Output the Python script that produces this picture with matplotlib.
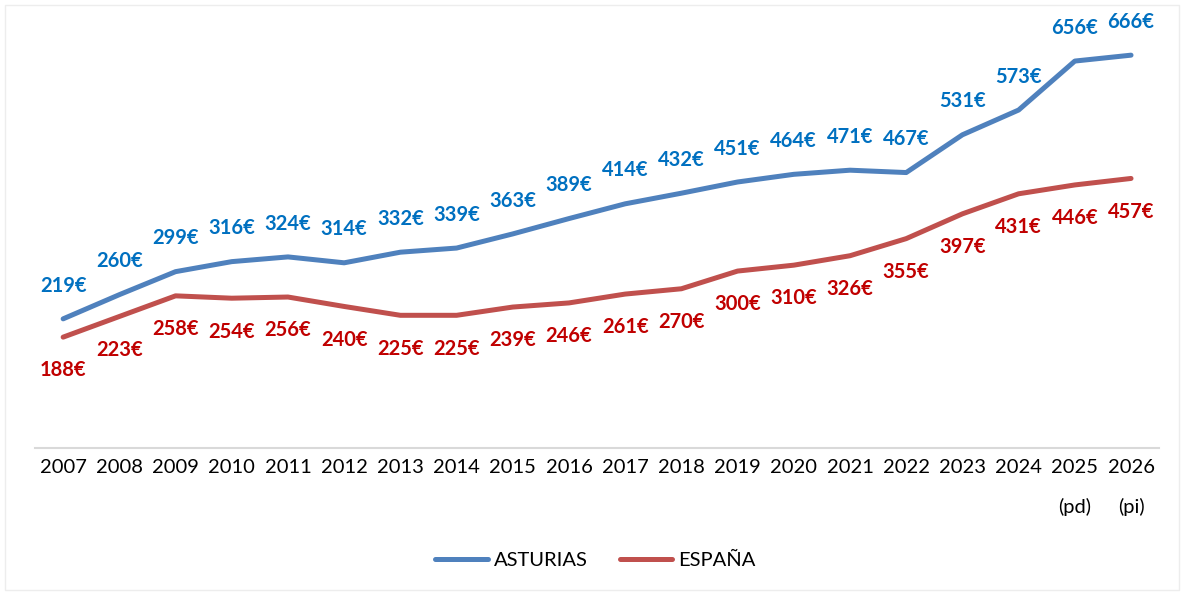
import matplotlib.pyplot as plt
import matplotlib.patches as mpatches
import numpy as np

plt.rcParams['font.family'] = ['Lato', 'DejaVu Sans']

anios = ["2007", "2008", "2009", "2010", "2011", "2012", "2013", "2014", "2015", "2016",
         "2017", "2018", "2019", "2020", "2021", "2022", "2023", "2024", "2025\n(pd)", "2026\n(pi)"]
asturias = [219, 260, 299, 316, 324, 314, 332, 339, 363, 389,
            414, 432, 451, 464, 471, 467, 531, 573, 656, 666]
espana = [188, 223, 258, 254, 256, 240, 225, 225, 239, 246,
          261, 270, 300, 310, 326, 355, 397, 431, 446, 457]

fig = plt.figure(figsize=(11.84, 5.95), dpi=100)
ax = fig.add_axes([0.0296, 0.247, 0.9494, 0.694])

x = np.arange(len(anios))
ax.plot(x, asturias, color="#4F81BD", lw=3.6, label="ASTURIAS", solid_capstyle="round")
ax.plot(x, espana, color="#C0504D", lw=3.6, label="ESPAÑA", solid_capstyle="round")

# etiquetas de datos
for i in x:
    ax.annotate(f"{asturias[i]}€", (i, asturias[i]), xytext=(0, 24), textcoords="offset points",
                ha="center", va="center", color="#0070C0", fontsize=14.5, fontweight="bold")
    ax.annotate(f"{espana[i]}€", (i, espana[i]), xytext=(0, -24), textcoords="offset points",
                ha="center", va="center", color="#C00000", fontsize=14.5, fontweight="bold")

ax.set_xlim(-0.5, len(anios) - 0.5)
ax.set_ylim(0, 700)
ax.set_xticks(x)
ax.set_xticklabels(anios, fontsize=14.5, linespacing=2.45, va="top")
ax.tick_params(axis="x", length=0, pad=8)
ax.set_yticks([])
for s in ["top", "right", "left"]:
    ax.spines[s].set_visible(False)
ax.spines["bottom"].set_color("#D9D9D9")
ax.spines["bottom"].set_linewidth(1.5)

fig.legend(loc="center", bbox_to_anchor=(0.503, 1 - 560 / 595), ncol=2, frameon=False,
           fontsize=14.5, handlelength=2.6, columnspacing=1.6, handletextpad=0.3)

# borde del gráfico
fig.patches.append(mpatches.Rectangle((5 / 1184, 5 / 595), 1 - 10 / 1184, 1 - 10 / 595,
                                      transform=fig.transFigure, fill=False,
                                      edgecolor="#EDEDED", lw=1))

fig.savefig("out.png", dpi=100)
